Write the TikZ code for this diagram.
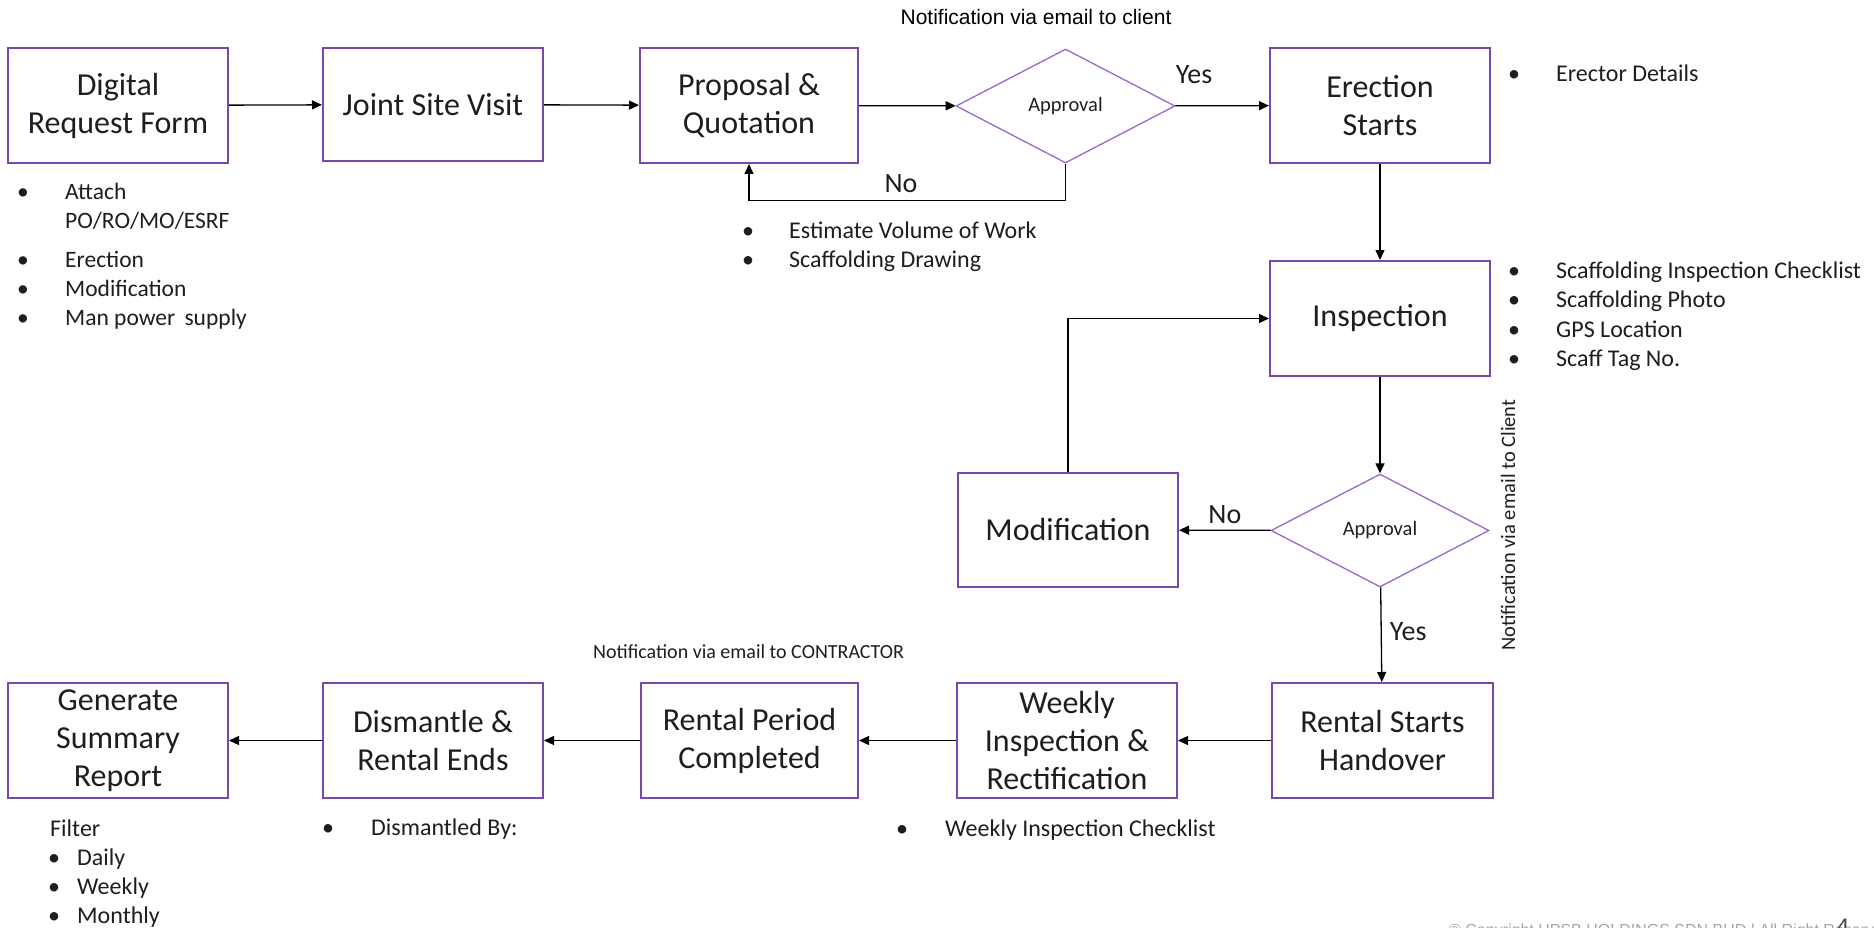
\documentclass[tikz,border=0pt]{standalone}
\usepackage{fontspec}
\setmainfont{Carlito}
\newfontfamily\arialf{Liberation Sans}
\usetikzlibrary{shapes.geometric,arrows.meta}
\definecolor{boxpurple}{RGB}{122,72,170}
\definecolor{diapurple}{RGB}{152,104,204}
\definecolor{txt}{RGB}{30,30,30}
\begin{document}
\begin{tikzpicture}[x=1pt,y=-1pt,
  box/.style={draw=boxpurple, line width=2pt, minimum height=115pt, align=center,
    inner sep=0pt, text=txt, font=\fontsize{32}{38}\selectfont},
  dia/.style={diamond, draw=diapurple, line width=1.3pt, inner sep=0pt, aspect=1.6,
    text=txt, font=\fontsize{20.5}{24}\selectfont},
  arr/.style={-{Triangle[length=10pt,width=9pt]}, line width=1.3pt, draw=black},
  lab/.style={text=txt, font=\fontsize{28}{32}\selectfont, inner sep=1pt},
  bt/.style={anchor=base west, inner sep=0pt, text=txt},
  bu/.style={anchor=base, inner sep=0pt, text=txt},
  sA/.style={font=\fontsize{23.5}{28}\selectfont},
  sB/.style={font=\fontsize{24}{28}\selectfont},
  sC/.style={font=\fontsize{24}{29}\selectfont}]
\useasboundingbox[fill=white] (0,0) rectangle (1874,928);

% boxes
\node[box, minimum width=220pt] (drf) at (118,105.5) {Digital\\Request Form};
\node[box, minimum width=220pt, minimum height=113pt] (jsv) at (433,104.5) {Joint Site Visit};
\node[box, minimum width=218pt] (pq) at (749,105.5) {Proposal \&\\Quotation};
\node[dia, minimum width=219pt, minimum height=114pt] (ap1) at (1065.5,106) {Approval};
\node[box, minimum width=220pt] (es) at (1380,105.5) {Erection\\Starts};
\node[box, minimum width=220pt] (insp) at (1380,318.5) {Inspection};
\node[box, minimum width=220pt, minimum height=114pt] (mod) at (1068,530) {Modification};
\node[dia, minimum width=218pt, minimum height=113pt] (ap2) at (1380,530.5) {Approval};
\node[box, minimum width=221pt] (rsh) at (1382.5,740.5) {Rental Starts\\Handover};
\node[box, minimum width=220pt] (wir) at (1067,740.5) {Weekly\\Inspection \&\\Rectification};
\node[box, minimum width=217pt] (rpc) at (749.5,740.5) {Rental Period\\Completed};
\node[box, minimum width=220pt] (dre) at (433,740.5) {Dismantle \&\\Rental Ends};
\node[box, minimum width=220pt] (gsr) at (118,740.5) {Generate\\Summary\\Report};

% connectors
\draw[arr] (drf) -- (jsv);
\draw[arr] (jsv) -- (pq);
\draw[arr] (pq) -- (ap1);
\draw[arr] (ap1) -- (es) node[lab, pos=0.2, yshift=31pt] {Yes};
\draw[arr] (ap1.south) -- ++(0,37) -| (pq.south) node[lab, pos=0.26, yshift=17pt] {No};
\draw[arr] (es) -- (insp);
\draw[arr] (insp) -- (ap2);
\draw[arr] (ap2) -- (mod) node[lab, pos=0.5, yshift=16pt] {No};
\draw[arr] (mod.north) |- (insp.west);
\draw[arr] (ap2) -- (rsh) node[lab, pos=0.47, xshift=27pt] {Yes};
\draw[arr] (rsh) -- (wir);
\draw[arr] (wir) -- (rpc);
\draw[arr] (rpc) -- (dre);
\draw[arr] (dre) -- (gsr);

% notes
\node[text=black, inner sep=0pt, font=\arialf\fontsize{21}{24}\selectfont] (n1) at (1036,17) {Notification via email to client};
\node[bt, font=\fontsize{20}{24}\selectfont] (n2) at (593,658) {Notification via email to CONTRACTOR};
\node[inner sep=0pt, text=txt, rotate=90, font=\fontsize{20.5}{24}\selectfont] (n3) at (1508,525) {Notification via email to Client};

% list under Digital Request Form
\node[bu, sA] (b1) at (23,200) {•};
\node[bt, sA] (t1) at (65,200) {Attach};
\node[bt, sA] (t1b) at (65,229) {PO/RO/MO/ESRF};
\node[bu, sA] (b2) at (23,267) {•};
\node[bt, sA] (t2) at (65,267) {Erection};
\node[bu, sA] (b3) at (23,296) {•};
\node[bt, sA] (t3) at (65,296) {Modification};
\node[bu, sA] (b4) at (23,325) {•};
\node[bt, sA] (t4) at (65,325) {Man power \,supply};

% list under Proposal
\node[bu, sB] (b5) at (748,239) {•};
\node[bt, sB] (t5) at (789,239) {Estimate Volume of Work};
\node[bu, sB] (b6) at (748,267) {•};
\node[bt, sB] (t6) at (789,267) {Scaffolding Drawing};

% list beside Erection
\node[bu, sB] (b7) at (1514,82) {•};
\node[bt, sB] (t7) at (1556,82) {Erector Details};

% list beside Inspection
\node[bu, sB] (b8) at (1514,278) {•};
\node[bt, sB] (t8) at (1556,278) {Scaffolding Inspection Checklist};
\node[bu, sB] (b9) at (1514,307.5) {•};
\node[bt, sB] (t9) at (1556,307.5) {Scaffolding Photo};
\node[bu, sB] (b10) at (1514,337) {•};
\node[bt, sB] (t10) at (1556,337) {GPS Location};
\node[bu, sB] (b11) at (1514,366.5) {•};
\node[bt, sB] (t11) at (1556,366.5) {Scaff Tag No.};

% bottom lists
\node[bt, sC] (t12) at (50,836) {Filter};
\node[bu, sC] (b13) at (54,865) {•};
\node[bt, sC] (t13) at (77,865) {Daily};
\node[bu, sC] (b14) at (54,894) {•};
\node[bt, sC] (t14) at (77,894) {Weekly};
\node[bu, sC] (b15) at (54,923) {•};
\node[bt, sC] (t15) at (77,923) {Monthly};

\node[bu, sC] (b16) at (328,835) {•};
\node[bt, sC] (t16) at (371,835) {Dismantled By:};

\node[bu, sC] (b17) at (902,836) {•};
\node[bt, sC] (t17) at (945,836) {Weekly Inspection Checklist};

% footer
\node[bt, text=black!35, font=\arialf\fontsize{16}{18}\selectfont] (cp) at (1449,935) {© Copyright HPSB HOLDINGS SDN BHD | All Right Reserved};
\node[bt, text=black!70, font=\arialf\fontsize{24}{26}\selectfont] (pg) at (1836,935) {4};
\end{tikzpicture}
\end{document}
